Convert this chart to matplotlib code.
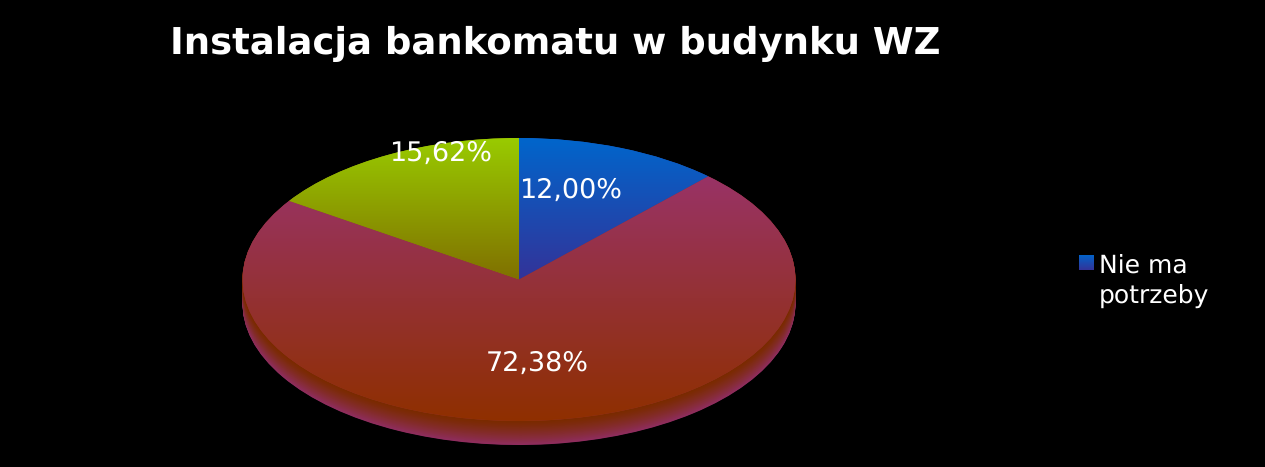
import numpy as np
import matplotlib
matplotlib.use("Agg")
import matplotlib.pyplot as plt
from matplotlib.colors import to_rgb

plt.rcParams["text.hinting"] = "no_hinting"
plt.rcParams["text.hinting_factor"] = 1

# chart data
title = "Instalacja bankomatu w budynku WZ"
shares = [12.00, 72.38, 15.62]
share_labels = ["12,00%", "72,38%", "15,62%"]
legend_label = "Nie ma\npotrzeby"

# gradient colours per slice (top, bottom)
slice_tops = ["#0066cc", "#993366", "#99cc00"]
slice_bottoms = ["#333399", "#8f2f00", "#807000"]
side_top = "#7a2a00"
side_bottom = "#8f2d60"

W, H = 1265, 467
CX, CY = 519, 279.5   # pie centre in pixels
RX, RY = 276.5, 141.5 # pie radii in pixels
DEPTH = 24 / RY       # height of the 3d edge in data units


def mix(c1, c2, t):
    return tuple((1 - t) * a + t * b for a, b in zip(to_rgb(c1), to_rgb(c2)))


def gradient(c1, c2, n=256):
    return np.array([mix(c1, c2, t) for t in np.linspace(0, 1, n)])[:, None, :]


fig = plt.figure(figsize=(W / 100, H / 100), dpi=100, facecolor="black")
ax = fig.add_axes([0, 0, 1, 1], facecolor="black")

# the 3d edge: stacked copies of the pie, bottom one first
steps = 60
for i in range(steps, 0, -1):
    t = i / steps
    col = mix(side_top, side_bottom, t ** 1.3)
    ax.pie(shares, startangle=90, counterclock=False, center=(0, -DEPTH * t),
           colors=[col] * 3, frame=False)

# top face with a vertical gradient in each slice
wedges, _ = ax.pie(shares, startangle=90, counterclock=False, frame=False,
                   colors=[mix(a, b, 0.5) for a, b in zip(slice_tops, slice_bottoms)])
for w, c1, c2 in zip(wedges, slice_tops, slice_bottoms):
    bb = w.get_path().get_extents(w.get_patch_transform())
    im = ax.imshow(gradient(c1, c2), extent=[bb.x0, bb.x1, bb.y0, bb.y1],
                   aspect="auto", origin="upper", zorder=w.get_zorder() + 0.5,
                   interpolation="bilinear")
    im.set_clip_path(w)

ax.set_aspect("auto")
ax.set_xlim(-CX / RX, (W - CX) / RX)
ax.set_ylim(-(H - CY) / RY, CY / RY)
ax.axis("off")

# slice labels, placed by hand like the original
for txt, (px, py) in zip(share_labels, [(570.5, 190.5), (537, 363.5), (440.5, 153.5)]):
    fig.text(px / W, 1 - py / H, txt, color="white", fontsize=19.3,
             ha="center", va="center", family="DejaVu Sans")

fig.text(555.5 / W, 1 - 43.5 / H, title, color="white", fontsize=26.7, fontweight="bold",
         ha="center", va="center", family="DejaVu Sans")

# legend
lax = fig.add_axes([1079 / W, 1 - 270 / H, 15 / W, 15 / H])
lax.imshow(gradient(slice_tops[0], slice_bottoms[0]), aspect="auto")
lax.axis("off")
fig.text(1099 / W, 1 - 280.5 / H, legend_label, color="white", fontsize=18,
         ha="left", va="center", family="DejaVu Sans", linespacing=1.3)

fig.savefig("out.png", dpi=100, facecolor="black")
